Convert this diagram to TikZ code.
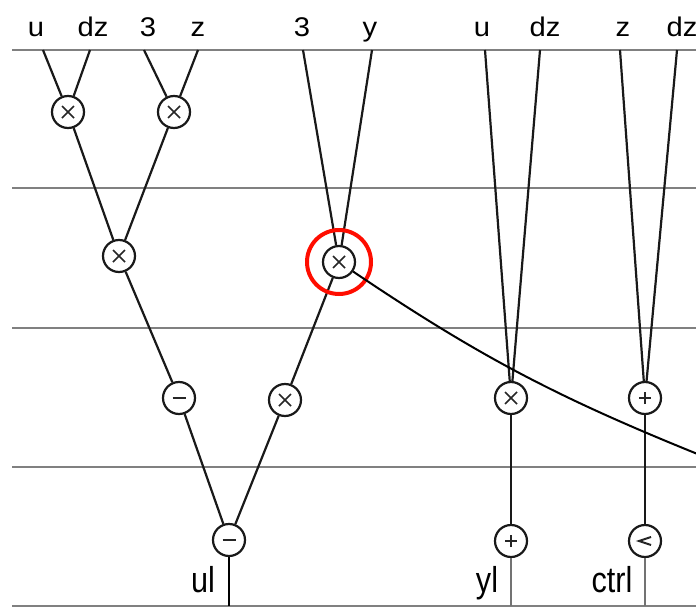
\documentclass[tikz,border=0pt]{standalone}
\usepackage{fontspec}
\setmainfont[FakeStretch=0.85]{Liberation Sans}
\newfontfamily\topfont[FakeStretch=1.08]{Liberation Sans}
\begin{document}
\begin{tikzpicture}[x=1pt,y=-1pt,
  rule/.style={draw=black!50,line width=1.5pt},
  wire/.style={draw=black!90,line width=2.2pt},
  op/.style={circle,draw=black!90,line width=2.2pt,fill=white,minimum size=32pt,inner sep=0pt},
  mul/.style={op,path picture={\draw[line width=1.6pt,black!85] ([shift={(-6pt,-6pt)}]path picture bounding box.center) -- ([shift={(6pt,6pt)}]path picture bounding box.center) ([shift={(-6pt,6pt)}]path picture bounding box.center) -- ([shift={(6pt,-6pt)}]path picture bounding box.center);}},
  sub/.style={op,path picture={\draw[line width=2pt,black!85] ([shift={(-6.5pt,0pt)}]path picture bounding box.center) -- ([shift={(6.5pt,0pt)}]path picture bounding box.center);}},
  add/.style={op,path picture={\draw[line width=1.6pt,black!85] ([shift={(-6pt,0pt)}]path picture bounding box.center) -- ([shift={(6pt,0pt)}]path picture bounding box.center) ([shift={(0pt,-6pt)}]path picture bounding box.center) -- ([shift={(0pt,6pt)}]path picture bounding box.center);}},
  less/.style={op,path picture={\draw[line width=2pt,black!85] ([shift={(6pt,-4pt)}]path picture bounding box.center) -- ([shift={(-6pt,0pt)}]path picture bounding box.center) -- ([shift={(6pt,4pt)}]path picture bounding box.center);}},
  toplab/.style={inner sep=0pt,anchor=base,font=\topfont\fontsize{27}{27}\selectfont},
  botlab/.style={inner sep=0pt,anchor=base,font=\fontsize{36}{36}\selectfont}
]
\useasboundingbox (0,0) rectangle (696,613);
\clip (0,0) rectangle (696,613);
% horizontal rules
\foreach \yy in {50,188,328,467,606} \draw[rule] (12,\yy) -- (696,\yy);

% top labels
\node[toplab] (lu1) at (36,36) {u};
\node[toplab] (ldz1) at (93,36) {dz};
\node[toplab] (l31) at (148,36) {3};
\node[toplab] (lz1) at (198,36) {z};
\node[toplab] (l32) at (302,36) {3};
\node[toplab] (ly) at (370,36) {y};
\node[toplab] (lu2) at (482,36) {u};
\node[toplab] (ldz2) at (545,36) {dz};
\node[toplab] (lz2) at (623,36) {z};
\node[toplab] (ldz3) at (682,36) {dz};

% wire tops
\coordinate (tu1) at (43,50);
\coordinate (tdz1) at (90,50);
\coordinate (t31) at (144,50);
\coordinate (tz1) at (198,50);
\coordinate (t32) at (303,50);
\coordinate (ty) at (372,50);
\coordinate (tu2) at (485,50);
\coordinate (tdz2) at (540,50);
\coordinate (tz2) at (620,50);
\coordinate (tdz3) at (677,50);
\coordinate (b1) at (229,606);
\coordinate (b2) at (511,606);
\coordinate (b3) at (645,606);

% operators
\node[mul] (m1) at (68,112) {};
\node[mul] (m2) at (174,112) {};
\node[mul] (m3) at (119,256) {};
\node[mul] (m4) at (339,262) {};
\node[sub] (s1) at (179,398) {};
\node[mul] (m5) at (285,400) {};
\node[sub] (s2) at (229,540) {};
\node[mul] (m6) at (511,398) {};
\node[add] (a1) at (645,398) {};
\node[add] (a2) at (511,541) {};
\node[less] (lt) at (645,541) {};

% wires
\draw[wire] (tu1) -- (m1);
\draw[wire] (tdz1) -- (m1);
\draw[wire] (t31) -- (m2);
\draw[wire] (tz1) -- (m2);
\draw[wire] (m1) -- (m3);
\draw[wire] (m2) -- (m3);
\draw[wire] (t32) -- (m4);
\draw[wire] (ty) -- (m4);
\draw[wire] (m3) -- (s1);
\draw[wire] (m4) -- (m5);
\draw[wire] (s1) -- (s2);
\draw[wire] (m5) -- (s2);
\draw[wire] (tu2) -- (m6);
\draw[wire] (tdz2) -- (m6);
\draw[wire] (tz2) -- (a1);
\draw[wire] (tdz3) -- (a1);
\draw[wire] (m6) -- (a2);
\draw[wire] (a1) -- (lt);
\draw[wire,black,line width=2.4pt] (s2) -- (b1);
\draw[wire,black!55,line width=2.6pt] (a2) -- (b2);
\draw[wire,black!55,line width=2.6pt] (lt) -- (b3);

% bottom labels
\node[botlab] (lul) at (203,592) {ul};
\node[botlab] (lyl) at (487,592) {yl};
\node[botlab] (lctrl) at (612,592) {ctrl};

% highlight and pointer
\draw[red!90!orange,line width=4pt] (m4.center) circle (32);
\coordinate (cend) at (700,455);
\draw[black,line width=2pt] (m4) to[out=-34,in=158] (cend);
\end{tikzpicture}
\end{document}
